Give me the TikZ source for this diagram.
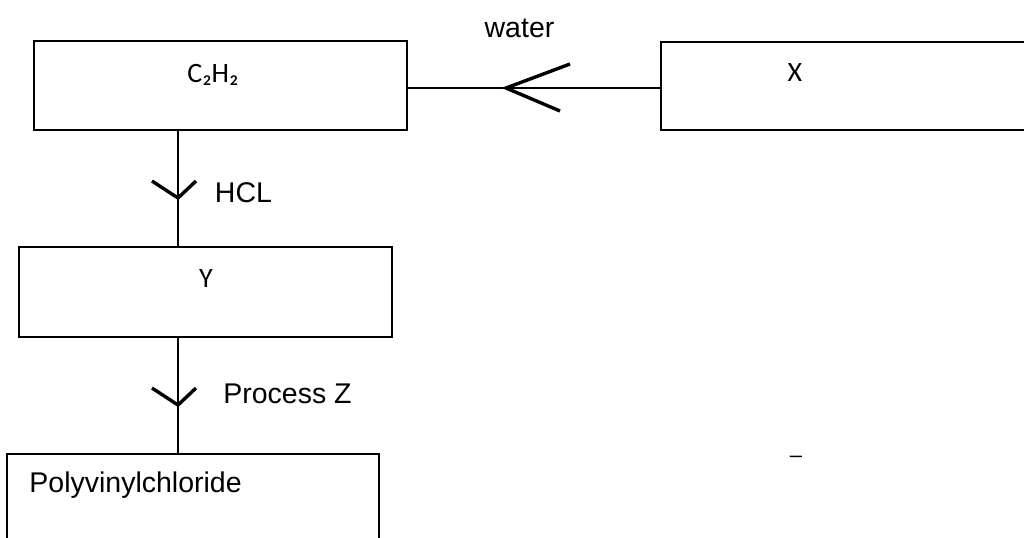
\documentclass[tikz,border=0pt]{standalone}
\usepackage{fontspec}
\setmainfont{Liberation Sans}
\newfontfamily\calibrifont{Carlito}
\usetikzlibrary{positioning}

\begin{document}
\begin{tikzpicture}[
		x=0.5pt,y=-0.5pt,
		box/.style={draw,line width=1pt,inner sep=0,minimum width=#1},
		box/.default=186.5pt,
		lbl/.style={anchor=base,inner sep=0,font=\fontsize{14.25}{17}\selectfont},
		cal/.style={anchor=base,inner sep=0,font=\calibrifont\fontsize{14}{17}\selectfont},
		link/.style={line width=0.75pt},
		chev/.style={line width=1.7pt}]
	\useasboundingbox (0,0) rectangle (1024,537);
	\clip (0,0) rectangle (1024,537);
	% boxes
	\node[box,minimum height=44.5pt] (ethyne) at (220.5,85.5) {};
	\node[box=200pt,minimum height=44pt] (xbox) at (861,86) {};
	\node[box,minimum height=45pt] (ybox) at (205.5,292) {};
	\node[box=186pt,minimum height=53pt] (pvc) at (193,507) {};
	% box texts
	\node[cal] (ethyne text) at (213,82) {C₂H₂};
	\node[cal] (x text) at (795,81) {X};
	\node[cal] (y text) at (206,287) {Y};
	\node[lbl,anchor=base west] (pvc text) at (29,492) {Polyvinylchloride};
	% connectors
	\coordinate (tip water) at (506,88);
	\coordinate (tip hcl) at (178,198);
	\coordinate (tip z) at (178,405);
	\draw[link] (xbox.west |- tip water) -- (ethyne.east |- tip water);
	\draw[link] (ethyne.south -| tip hcl) -- (ybox.north -| tip hcl);
	\draw[link] (ybox.south -| tip z) -- (pvc.north -| tip z);
	\draw[chev] ([shift={(64,-24)}]tip water) -- (tip water) -- ([shift={(54,23)}]tip water);
	\draw[chev] ([shift={(-26,-17)}]tip hcl) -- (tip hcl) -- ([shift={(18,-17)}]tip hcl);
	\draw[chev] ([shift={(-26,-17)}]tip z) -- (tip z) -- ([shift={(18,-17)}]tip z);
	% labels
	\node[lbl] (water) at (519.5,37) {water};
	\node[lbl] (hcl) at (243.5,202) {HCL};
	\node[lbl,anchor=base west] (process z) at (223,403) {Process Z};
	\node[lbl,font=\fontsize{11}{13}\selectfont] (dash) at (796,462) {–};
\end{tikzpicture}
\end{document}
